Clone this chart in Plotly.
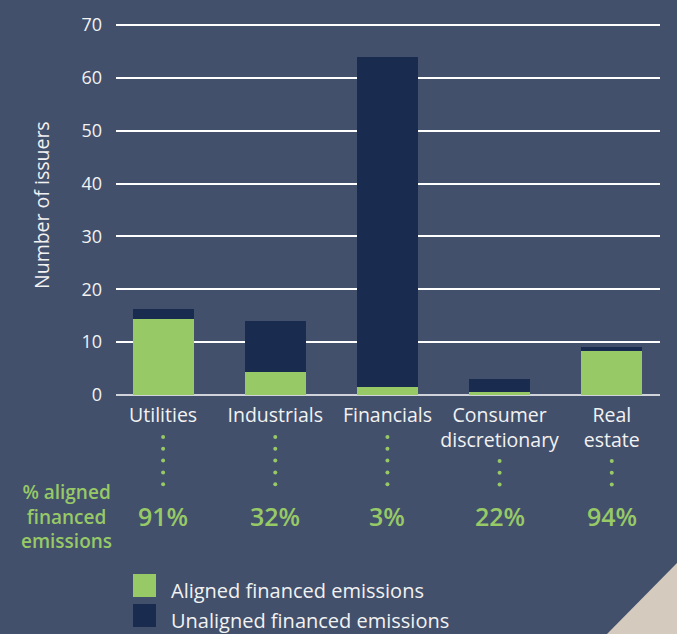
import plotly.graph_objects as go

# ---- data -------------------------------------------------------------
categories = ["Utilities", "Industrials", "Financials", "Consumer discretionary", "Real estate"]
category_labels = ["Utilities", "Industrials", "Financials", "Consumer<br>discretionary", "Real<br>estate"]
aligned = [14.3, 4.2, 1.4, 0.4, 8.2]
unaligned = [1.9, 9.7, 62.5, 2.5, 0.8]
aligned_pct = ["91%", "32%", "3%", "22%", "94%"]
y_ticks = [0, 10, 20, 30, 40, 50, 60, 70]
series_names = ["Aligned financed emissions", "Unaligned financed emissions"]
row_title = "% aligned<br>financed<br>emissions"

# ---- styling ----------------------------------------------------------
W, H = 677, 634
BG = "#42506c"
GREEN = "#97c966"
NAVY = "#192b4e"
TEXT = "#f2f2f2"
FONT = "Open Sans"
CLEAR = "rgba(0,0,0,0)"

def px_x(x):
    return x / W

def px_y(y):
    return 1 - y / H

# value axis: 0 sits at y=395px, 70 at y=25px; range padded slightly so the
# top gridline is still drawn
y_max = 70.3
px_per_unit = (395 - 25) / 70
plot_left, plot_right = 116, 660
plot_bottom = 395
plot_top = plot_bottom - y_max * px_per_unit
x_range = [-0.42, 4.43]

fig = go.Figure()

fig.add_trace(go.Bar(x=categories, y=aligned, name=series_names[0],
                     marker=dict(color=GREEN, line=dict(width=0)), width=0.545,
                     showlegend=False))
fig.add_trace(go.Bar(x=categories, y=unaligned, name=series_names[1],
                     marker=dict(color=NAVY, line=dict(width=0)), width=0.545,
                     showlegend=False))

# dotted connectors between category names and the percentage row
dot_x, dot_y = [], []
for i, lbl in enumerate(category_labels):
    start = 461 if "<br>" in lbl else 437
    y = start
    while y <= 485:
        dot_x.append(i)
        dot_y.append(y)
        y += 11.8
fig.add_trace(go.Scatter(x=dot_x, y=dot_y, mode="markers", xaxis="x2", yaxis="y2",
                         marker=dict(color=GREEN, size=4), showlegend=False,
                         hoverinfo="skip"))

annotations = []
for cat, pct in zip(categories, aligned_pct):
    annotations.append(dict(x=cat, y=px_y(516), xref="x", yref="paper",
                            text=pct, showarrow=False,
                            font=dict(family=FONT, size=25, color=GREEN, weight=600),
                            xanchor="center", yanchor="middle"))

annotations.append(dict(x=px_x(66), y=px_y(516), xref="paper", yref="paper",
                        text=row_title, showarrow=False, align="center",
                        font=dict(family=FONT, size=19, color=GREEN, weight=600),
                        xanchor="center", yanchor="middle"))

annotations.append(dict(x=px_x(41), y=px_y(205), xref="paper", yref="paper",
                        text="Number of issuers", textangle=-90, showarrow=False,
                        font=dict(family=FONT, size=19.5, color=TEXT),
                        xanchor="center", yanchor="middle"))

# legend
shapes = []
legend_rows = [(GREEN, 586), (NAVY, 616)]
for (col, yc), name in zip(legend_rows, series_names):
    shapes.append(dict(type="rect", xref="paper", yref="paper",
                       x0=px_x(133), x1=px_x(156), y0=px_y(yc - 12), y1=px_y(yc + 11),
                       fillcolor=col, line=dict(width=0)))
    annotations.append(dict(x=px_x(169), y=px_y(yc + 4), xref="paper", yref="paper",
                            text=name, showarrow=False,
                            font=dict(family=FONT, size=20, color=TEXT),
                            xanchor="left", yanchor="middle"))

# beige corner
shapes.append(dict(type="path", xref="paper", yref="paper",
                   path=f"M {px_x(607)},0 L 1,{px_y(563)} L 1,0 Z",
                   fillcolor="#d4cabd", line=dict(width=0), layer="below"))

fig.update_layout(
    width=W, height=H,
    margin=dict(l=0, r=0, t=0, b=0, autoexpand=False),
    paper_bgcolor=BG, plot_bgcolor=CLEAR,
    barmode="stack", bargap=0,
    font=dict(family=FONT, color=TEXT),
    xaxis=dict(domain=[px_x(plot_left), px_x(plot_right)], range=x_range,
               type="category", tickvals=categories, ticktext=category_labels,
               tickfont=dict(family=FONT, size=19.5, color=TEXT),
               showgrid=False, zeroline=False, showline=False, automargin=False,
               ticks="", ticklabelstandoff=6, fixedrange=True),
    yaxis=dict(domain=[px_y(plot_bottom), px_y(plot_top)], range=[0, y_max],
               tickvals=y_ticks, tickfont=dict(family=FONT, size=18, color=TEXT),
               showgrid=True, gridcolor="#ffffff", gridwidth=1.5,
               zeroline=True, zerolinecolor="#d0d3da", zerolinewidth=2,
               showline=False, automargin=False,
               ticks="", ticklabelstandoff=13, fixedrange=True),
    xaxis2=dict(domain=[px_x(plot_left), px_x(plot_right)], range=x_range,
                anchor="y2", visible=False, fixedrange=True, automargin=False),
    yaxis2=dict(domain=[0, 1], range=[H, 0], anchor="x2", visible=False,
                fixedrange=True, automargin=False),
    annotations=annotations,
    shapes=shapes,
)

fig.write_html("out.html")
